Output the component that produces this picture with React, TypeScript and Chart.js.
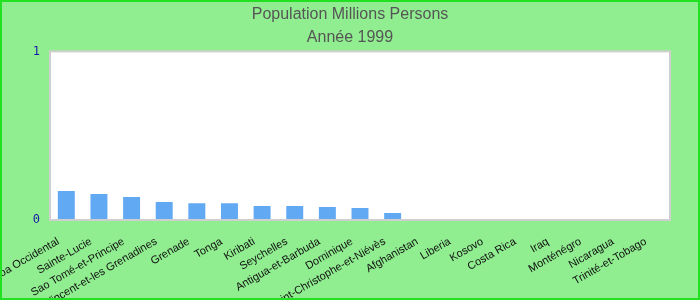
import React, { useEffect, useRef } from "react";
import { Chart, registerables } from "chart.js";

Chart.register(...registerables);

const categories = [
  "Samoa Occidental",
  "Sainte-Lucie",
  "Sao Tomé-et-Principe",
  "Saint-Vincent-et-les Grenadines",
  "Grenade",
  "Tonga",
  "Kiribati",
  "Seychelles",
  "Antigua-et-Barbuda",
  "Dominique",
  "Saint-Christophe-et-Niévès",
  "Afghanistan",
  "Liberia",
  "Kosovo",
  "Costa Rica",
  "Iraq",
  "Monténégro",
  "Nicaragua",
  "Trinité-et-Tobago",
];

const population = [
  0.172, 0.154, 0.136, 0.107, 0.1, 0.1, 0.083, 0.083, 0.077, 0.071, 0.041,
  0, 0, 0, 0, 0, 0, 0, 0,
];

const yTicks = [0, 1];

const titleText = "Population Millions Persons";
const subtitleText = "Année 1999";

const plotBg = {
  id: "plotBg",
  beforeDraw(chart: any) {
    const { ctx, chartArea } = chart;
    if (!chartArea) return;
    ctx.save();
    ctx.fillStyle = "#ffffff";
    ctx.fillRect(chartArea.left, chartArea.top, chartArea.right - chartArea.left, chartArea.bottom - chartArea.top);
    ctx.restore();
  },
  afterDraw(chart: any) {
    const { ctx, chartArea } = chart;
    ctx.save();
    ctx.strokeStyle = "#cfcfcf";
    ctx.lineWidth = 2;
    ctx.strokeRect(chartArea.left, chartArea.top, chartArea.right - chartArea.left, chartArea.bottom - chartArea.top);
    ctx.restore();
  },
};

export default function App() {
  const ref = useRef<HTMLCanvasElement>(null);
  useEffect(() => {
    document.body.style.margin = "0";
    const canvas = ref.current!;
    const chart = new Chart(canvas, {
      type: "bar",
      data: {
        labels: categories,
        datasets: [
          {
            data: population,
            backgroundColor: "#62a9f3",
            barPercentage: 0.52,
            categoryPercentage: 1,
          },
        ],
      },
      options: {
        animation: false,
        responsive: false,
        layout: { padding: 0 },
        plugins: {
          legend: { display: false },
          tooltip: { enabled: false },
          title: {
            display: true,
            text: titleText,
            color: "#555555",
            font: { family: "Liberation Sans", size: 16, weight: "normal" },
            padding: { top: 3, bottom: 4 },
          },
          subtitle: {
            display: true,
            text: subtitleText,
            color: "#555555",
            font: { family: "Liberation Sans", size: 16, weight: "normal" },
            padding: { top: 0, bottom: 4 },
          },
        },
        scales: {
          x: {
            grid: { display: false },
            border: { display: false },
            ticks: {
              autoSkip: false,
              maxRotation: 30,
              minRotation: 30,
              color: "#111111",
              padding: 7,
              labelOffset: -8,
              font: { family: "Liberation Sans", size: 11 },
            },
            afterFit(scale: any) {
              scale.height = 78;
              scale.paddingLeft = 0;
              scale.paddingRight = 28;
            },
          },
          y: {
            min: 0,
            max: 1,
            grid: { display: false },
            border: { display: false },
            afterBuildTicks(scale: any) {
              scale.ticks = yTicks.map((v) => ({ value: v }));
            },
            ticks: {
              color: "#1a1aa8",
              padding: 2,
              font: { family: "DejaVu Sans Mono", size: 12 },
            },
            afterFit(scale: any) {
              scale.width = 48;
            },
          },
        },
      },
      plugins: [plotBg],
    });
    return () => chart.destroy();
  }, []);
  return (
    <div
      style={{
        width: 700,
        height: 300,
        background: "#90ee90",
        boxSizing: "border-box",
        border: "2px solid #22e022",
        position: "relative",
      }}
    >
      <canvas ref={ref} width={696} height={296} style={{ display: "block" }} />
    </div>
  );
}
